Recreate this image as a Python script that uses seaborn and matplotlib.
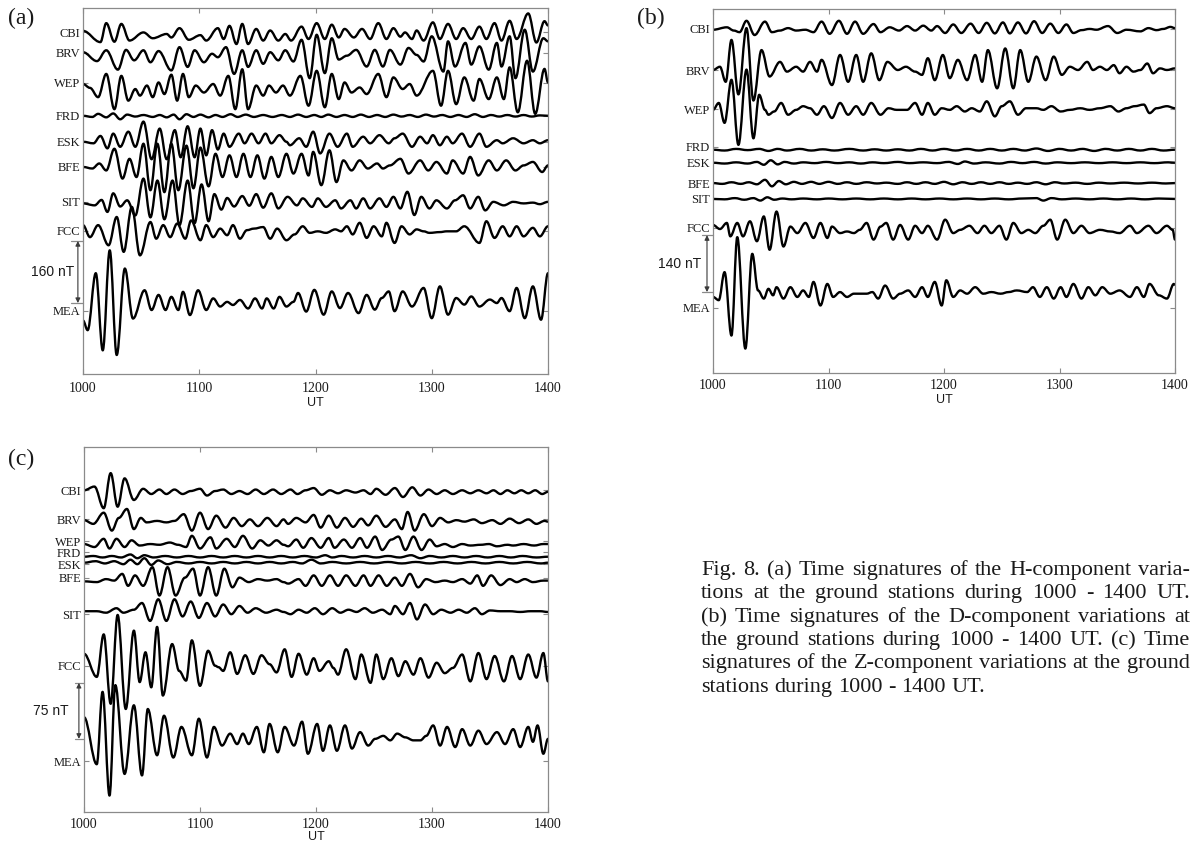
import matplotlib
matplotlib.use("Agg")
import matplotlib.pyplot as plt
import matplotlib.transforms as mtransforms
from matplotlib.path import Path
from matplotlib.patches import PathPatch
import seaborn as sns

# ---------------------------------------------------------------------------
# Magnetometer records 1000-1400 UT: successive turning points (UT minute, nT)
# of each station trace, relative to the station's own baseline.
# ---------------------------------------------------------------------------
STATIONS = ["CBI", "BRV", "WEP", "FRD", "ESK", "BFE", "SIT", "FCC", "MEA"]
UT_TICKS = [1000, 1100, 1200, 1300, 1400]
SCALE_BARS_NT = [160, 140, 75]
PANEL_TAGS = ["(a)", "(b)", "(c)"]

# ---- H component --------------------------------------------------------
H_CBI = [(1000, 8), (1015, -21), (1020, 28), (1027, -20), (1033, 26), (1040, -17), (1052, 4), (1060, -11),
         (1072, 0), (1076, -9), (1083, 15), (1091, -15), (1101, -3), (1106, -17), (1116, 15), (1121, -13),
         (1126, 21), (1132, -26), (1137, 26), (1142, -26), (1149, 13), (1155, -17), (1161, 9), (1168, -17),
         (1174, 0), (1179, -17), (1188, 19), (1194, -13), (1201, 28), (1208, -13), (1214, 24), (1220, -9),
         (1225, 13), (1233, -9), (1240, 13), (1247, -13), (1254, 28), (1261, -13), (1267, 15), (1273, -7),
         (1277, 4), (1283, -13), (1287, 9), (1293, -17), (1301, 30), (1307, -13), (1314, 26), (1321, -13),
         (1327, 15), (1334, -13), (1341, 19), (1347, -13), (1354, 28), (1360, -17), (1367, 34), (1373, -13),
         (1383, 53), (1390, -22), (1397, 33), (1400, 22)]
H_BRV = [(1000, 4), (1012, -19), (1020, 9), (1030, -41), (1037, 10), (1044, -17), (1052, 9), (1058, -22),
         (1065, 7), (1076, -43), (1083, 17), (1090, -34), (1096, 9), (1104, -22), (1111, 0), (1116, -9),
         (1123, 17), (1130, -52), (1137, 9), (1142, -34), (1149, 9), (1155, -26), (1161, 4), (1168, -17),
         (1174, 9), (1181, -20), (1188, 36), (1195, -63), (1201, 49), (1208, -50), (1214, 40), (1220, -15),
         (1227, -5), (1235, 10), (1244, -33), (1251, 10), (1258, -33), (1264, 10), (1273, -28), (1280, 15),
         (1287, -3), (1293, -20), (1300, 45), (1310, -46), (1314, 32), (1320, -33), (1329, 28), (1334, -28),
         (1341, 19), (1349, -41), (1356, 28), (1360, -33), (1367, 45), (1372, -63), (1380, 62), (1387, -46),
         (1396, 40), (1400, 32)]
H_WEP = [(1000, 0), (1006, -10), (1013, -34), (1020, 26), (1027, -65), (1033, 21), (1039, -43), (1045, -13),
         (1049, -30), (1055, -4), (1060, -34), (1065, 4), (1070, -26), (1076, 24), (1081, -43), (1086, 26),
         (1091, -34), (1097, -4), (1104, -22), (1112, 0), (1118, -30), (1125, 21), (1131, -65), (1137, 38),
         (1142, -65), (1149, -4), (1155, -30), (1160, -4), (1166, -22), (1172, -4), (1178, -30), (1187, 21),
         (1194, -56), (1201, 34), (1208, -60), (1214, 26), (1220, -39), (1225, 4), (1231, -22), (1238, -9),
         (1244, -26), (1254, 26), (1261, -34), (1267, 17), (1275, -13), (1281, 0), (1287, -30), (1301, 34),
         (1308, -56), (1314, 34), (1321, -52), (1328, 17), (1336, -43), (1341, 13), (1349, -39), (1356, 17),
         (1362, -39), (1367, 43), (1374, -73), (1382, 60), (1389, -77), (1397, 39), (1400, 4)]
H_FRD = [(1000, 0), (1008, -3), (1013, 5), (1020, -4), (1026, 6), (1032, -9), (1038, 3), (1045, -2), (1052, 2),
         (1060, -3), (1066, 2), (1072, -4), (1078, 3), (1083, -9), (1089, 4), (1095, -3), (1101, 3), (1108, -4),
         (1114, 2), (1120, -3), (1127, 4), (1133, -3), (1140, 3), (1147, -3), (1155, 2), (1163, -3), (1171, 2),
         (1178, -3), (1185, 3), (1192, -3), (1199, 2), (1205, -3), (1211, 3), (1218, -3), (1225, 2), (1232, -3),
         (1239, 3), (1246, -3), (1253, 2), (1260, -3), (1267, 3), (1274, -2), (1281, 2), (1288, -3), (1295, 3),
         (1302, -2), (1309, 2), (1316, -3), (1323, 2), (1330, -3), (1337, 4), (1344, -3), (1351, 2), (1358, -2),
         (1365, 2), (1372, -2), (1379, 2), (1386, -2), (1393, 1), (1400, 0)]
H_ESK = [(1000, 0), (1009, -4), (1015, 15), (1021, -17), (1026, 21), (1032, -13), (1039, 26), (1045, -13),
         (1052, 52), (1059, -45), (1066, 34), (1072, -45), (1079, 30), (1084, -40), (1090, 40), (1096, -40),
         (1101, 34), (1106, -35), (1111, 30), (1116, -20), (1121, 21), (1126, -13), (1134, 21), (1139, -4),
         (1145, 21), (1151, -4), (1157, 21), (1162, -4), (1169, 17), (1175, 0), (1178, -9), (1186, 9),
         (1192, -13), (1198, 26), (1204, -30), (1212, 21), (1219, -13), (1227, 21), (1232, -13), (1241, 13),
         (1247, -4), (1255, 17), (1263, -4), (1268, 9), (1275, 21), (1283, -13), (1290, 13), (1296, -4),
         (1301, 17), (1307, -9), (1313, 13), (1318, -4), (1326, 21), (1333, -13), (1341, 21), (1347, -13),
         (1356, 4), (1361, -4), (1370, 9), (1379, -4), (1387, 4), (1393, -4), (1400, 4)]
H_BFE = [(1000, 0), (1008, -4), (1014, 9), (1020, -9), (1027, 47), (1034, -30), (1040, 21), (1046, -26),
         (1052, 60), (1058, -60), (1064, 60), (1070, -65), (1076, 60), (1082, -60), (1089, 55), (1095, -55),
         (1101, 50), (1108, -50), (1114, 34), (1120, -26), (1126, 30), (1132, -26), (1138, 34), (1144, -26),
         (1150, 30), (1156, -30), (1162, 26), (1168, -26), (1175, 34), (1181, -17), (1188, 34), (1194, -22),
         (1198, 39), (1205, -47), (1212, 43), (1218, -39), (1224, 17), (1231, -9), (1238, 17), (1245, -4),
         (1253, 9), (1258, -4), (1264, 4), (1273, 21), (1280, -17), (1290, 17), (1297, -9), (1304, 13),
         (1313, -17), (1318, 17), (1327, -17), (1333, 26), (1340, -22), (1349, 17), (1356, -9), (1364, 17),
         (1372, -9), (1379, 4), (1387, 13), (1395, -13), (1400, 4)]
H_SIT = [(1000, -4), (1010, -9), (1016, 5), (1021, -26), (1026, 22), (1032, -12), (1038, 4), (1045, -35),
         (1052, 60), (1058, -40), (1064, 55), (1070, -45), (1077, 55), (1083, -60), (1090, 55), (1096, -55),
         (1102, 45), (1108, -50), (1113, 20), (1119, -20), (1124, 10), (1130, -12), (1137, 15), (1143, -10),
         (1149, 20), (1155, -15), (1162, 22), (1168, -17), (1176, 13), (1184, -9), (1189, 9), (1197, -13),
         (1202, 9), (1209, -13), (1217, 4), (1222, -17), (1230, 4), (1235, -17), (1241, 9), (1247, -17),
         (1255, 9), (1261, -13), (1267, 13), (1273, -17), (1279, 26), (1285, -34), (1291, 13), (1298, -17),
         (1304, 4), (1313, -17), (1320, 4), (1327, 17), (1333, -17), (1340, 13), (1346, -22), (1353, 0),
         (1362, -9), (1370, 0), (1379, -4), (1387, -2), (1393, -6), (1400, 0)]
H_FCC = [(1000, 15), (1006, -16), (1013, 15), (1022, -37), (1029, 36), (1035, -54), (1042, 62), (1049, -63),
         (1058, 23), (1063, -20), (1069, 15), (1075, -16), (1081, 19), (1088, -20), (1093, 27), (1101, -24),
         (1106, 15), (1112, -16), (1118, 6), (1124, -11), (1129, 15), (1135, -20), (1141, 2), (1147, 6),
         (1155, 10), (1161, -20), (1167, 6), (1175, -24), (1182, -9), (1189, 12), (1195, -5), (1202, -1),
         (1209, -5), (1217, 4), (1222, -1), (1227, 12), (1232, -9), (1238, 21), (1244, -18), (1250, 12),
         (1257, -14), (1261, 21), (1268, -31), (1274, 12), (1281, -9), (1287, 4), (1293, -1), (1298, -5),
         (1307, -3), (1313, -1), (1321, -1), (1328, 12), (1341, -31), (1347, 25), (1354, -18), (1361, 12),
         (1367, -14), (1373, 12), (1379, -14), (1387, 8), (1393, -14), (1400, 12)]
H_MEA = [(1000, -45), (1004, -70), (1011, 77), (1017, -122), (1023, 136), (1029, -134), (1036, 89), (1043, -40),
         (1053, 33), (1059, -18), (1065, 21), (1071, -18), (1076, 16), (1082, -18), (1086, 29), (1092, -31),
         (1099, 33), (1106, -18), (1112, 12), (1118, -9), (1124, 3), (1129, -5), (1135, 8), (1142, -14),
         (1148, 12), (1154, -14), (1158, 12), (1164, -14), (1169, 16), (1175, -9), (1181, 3), (1185, 26),
         (1192, -22), (1199, 34), (1207, -30), (1214, 30), (1221, -13), (1228, 26), (1237, -26), (1244, 21),
         (1251, -17), (1257, 13), (1263, 30), (1268, -21), (1275, 30), (1283, -9), (1293, 39), (1300, -39),
         (1307, 43), (1314, -30), (1321, 13), (1328, -4), (1334, 17), (1341, -9), (1350, 9), (1356, 0),
         (1360, 13), (1367, -21), (1373, 39), (1380, -39), (1387, 43), (1394, -43), (1400, 77)]

# ---- D component --------------------------------------------------------
D_CBI = [(1000, -2), (1012, 4), (1018, -4), (1023, -8), (1029, 20), (1036, -15), (1045, 18), (1051, -8),
         (1058, -4), (1065, 2), (1072, -4), (1080, -2), (1087, -8), (1094, 18), (1101, -12), (1109, 20),
         (1116, -12), (1123, 18), (1130, -12), (1139, 12), (1145, -8), (1153, 4), (1161, -4), (1168, 7),
         (1175, -4), (1182, 8), (1189, -4), (1194, 7), (1201, -10), (1208, 11), (1215, -10), (1223, 13),
         (1230, -10), (1237, 15), (1244, -11), (1251, 16), (1257, -11), (1264, 16), (1271, -11), (1278, 19),
         (1285, -10), (1292, 13), (1299, -10), (1306, 11), (1312, -10), (1319, -3), (1326, 0), (1332, -2),
         (1342, 7), (1350, -10), (1358, -2), (1370, -6), (1377, 2), (1384, -3), (1390, 0), (1396, 5), (1400, 2)]
D_BRV = [(1000, 0), (1006, 8), (1011, -29), (1016, 74), (1022, -60), (1029, 103), (1035, -75), (1042, 49),
         (1049, -16), (1058, 20), (1064, -4), (1072, 8), (1078, -4), (1084, 20), (1090, -4), (1094, 25),
         (1103, -37), (1110, 37), (1117, -29), (1124, 37), (1130, -29), (1137, 41), (1144, -25), (1151, 20),
         (1160, 0), (1167, 8), (1175, -4), (1181, -12), (1186, 29), (1192, -25), (1199, 37), (1205, -20),
         (1212, 25), (1220, -25), (1227, 37), (1233, -29), (1238, 49), (1246, -45), (1253, 53), (1260, -45),
         (1266, 49), (1273, -29), (1280, 33), (1288, -25), (1295, 33), (1302, -12), (1309, 8), (1316, 0),
         (1324, 20), (1329, 0), (1335, 8), (1341, 0), (1347, 12), (1352, -8), (1358, 8), (1364, -4),
         (1370, 0), (1376, 16), (1381, -8), (1387, 4), (1393, 0), (1400, 4)]
D_WEP = [(1000, -2), (1005, 15), (1010, -34), (1016, 72), (1022, -88), (1029, 97), (1035, -72), (1040, 35),
         (1045, -2), (1048, -14), (1053, -6), (1059, 15), (1065, -14), (1072, -2), (1078, 7), (1084, 2),
         (1090, -14), (1096, 7), (1103, -22), (1110, 15), (1117, -14), (1124, 7), (1130, -14), (1137, 15),
         (1145, -14), (1152, 2), (1159, -2), (1168, -2), (1175, 15), (1181, -14), (1186, 15), (1192, -14),
         (1198, 2), (1205, -2), (1211, 7), (1218, -6), (1224, 2), (1231, -6), (1237, 19), (1244, -18),
         (1250, 7), (1257, 19), (1264, -14), (1271, 2), (1280, 2), (1286, -2), (1293, 7), (1301, -6),
         (1309, -2), (1318, 2), (1326, -2), (1335, 2), (1344, 7), (1351, -6), (1358, 2), (1365, 7),
         (1373, 11), (1378, -10), (1384, 2), (1393, 7), (1400, 2)]
D_FRD = [(1000, 0), (1010, -2), (1020, 2), (1030, -1), (1040, 2), (1048, -3), (1056, 2), (1064, -2), (1075, 2),
         (1085, -2), (1095, 1), (1105, -2), (1118, 2), (1130, -2), (1140, 1), (1150, -2), (1160, 1), (1170, -2),
         (1180, 2), (1190, -2), (1200, 2), (1210, -2), (1220, 2), (1230, -2), (1240, 2), (1250, -2), (1260, 2),
         (1270, -2), (1280, 3), (1290, -3), (1300, 2), (1310, -2), (1320, 2), (1330, -3), (1340, 2), (1350, -2),
         (1360, 2), (1370, -2), (1380, 2), (1390, -2), (1400, 0)]
D_ESK = [(1000, 0), (1010, -2), (1020, 1), (1030, -2), (1038, 2), (1044, -5), (1050, 6), (1056, -4), (1062, 2),
         (1070, -2), (1078, 1), (1088, -1), (1098, 2), (1108, -1), (1118, 1), (1128, -2), (1138, 1), (1148, -1),
         (1160, 2), (1170, -1), (1182, 1), (1194, -1), (1204, 2), (1212, -3), (1218, 3), (1226, -2), (1236, 1),
         (1248, -2), (1258, 2), (1268, -1), (1278, 2), (1288, -2), (1298, 1), (1310, -1), (1322, 1), (1334, -1),
         (1346, 1), (1358, -1), (1370, 1), (1382, -1), (1394, 1), (1400, 0)]
D_BFE = [(1000, 0), (1008, -2), (1016, 2), (1024, -2), (1031, 2), (1038, -3), (1045, 8), (1051, -8), (1057, 5),
         (1063, -3), (1070, 3), (1077, -2), (1085, 3), (1092, -2), (1100, 3), (1108, -2), (1116, 2), (1124, -2),
         (1133, 2), (1142, -1), (1150, 1), (1160, -2), (1168, 2), (1176, -2), (1184, 2), (1192, -2), (1200, 3),
         (1208, -3), (1216, 2), (1224, -2), (1232, 2), (1240, -2), (1248, 2), (1256, -2), (1264, 1), (1272, -2),
         (1280, 2), (1288, -3), (1296, 2), (1304, -1), (1314, 1), (1324, -2), (1334, 1), (1344, -1), (1356, 1),
         (1368, -1), (1380, 1), (1392, -1), (1400, 0)]
D_SIT = [(1000, 0), (1010, -1), (1019, 2), (1027, -2), (1035, 2), (1041, -4), (1047, 4), (1053, -2), (1060, 1),
         (1068, -1), (1078, 1), (1090, -1), (1100, 1), (1112, -1), (1124, 1), (1136, -1), (1148, 1), (1160, -1),
         (1172, 1), (1184, -1), (1196, 1), (1208, -1), (1220, 1), (1232, -1), (1244, 1), (1256, -1), (1268, 1),
         (1280, 2), (1286, -4), (1293, 2), (1302, -1), (1314, 1), (1326, -1), (1338, 1), (1350, -1), (1362, 1),
         (1374, -1), (1386, 1), (1400, 0)]
D_FCC = [(1000, 2), (1006, -8), (1012, 7), (1015, -26), (1021, 7), (1026, -26), (1032, 11), (1038, -38),
         (1044, 23), (1049, -59), (1055, 35), (1061, -51), (1067, -2), (1073, -18), (1080, 7), (1087, -30),
         (1093, 7), (1099, -30), (1103, -2), (1110, -18), (1116, -14), (1122, -18), (1127, -10), (1133, 7),
         (1139, -34), (1145, -2), (1150, 7), (1156, -34), (1162, 2), (1169, -34), (1175, 0), (1181, -18),
         (1186, 0), (1194, -34), (1201, 15), (1208, -18), (1214, -10), (1222, 0), (1229, -18), (1235, 0),
         (1241, -18), (1248, 0), (1254, -34), (1260, 7), (1267, -18), (1273, -10), (1279, -18), (1286, 0),
         (1292, 15), (1298, -34), (1305, 15), (1312, -18), (1319, 0), (1326, -18), (1335, -10), (1344, -14),
         (1352, -18), (1361, 0), (1367, -18), (1377, 0), (1384, -18), (1393, 0), (1398, -10), (1400, -34)]
D_MEA = [(1000, -12), (1005, -20), (1010, 49), (1016, -107), (1021, 135), (1028, -139), (1034, 94), (1039, 4),
         (1044, -16), (1048, 8), (1052, -8), (1055, 12), (1061, -16), (1067, 12), (1073, -12), (1078, 4),
         (1083, -12), (1087, 25), (1093, -33), (1099, 20), (1104, -12), (1110, 0), (1116, -12), (1122, -4),
         (1133, -4), (1138, 0), (1143, -16), (1149, 16), (1156, -16), (1162, -4), (1169, 4), (1175, -12),
         (1181, 12), (1186, -12), (1192, 25), (1198, -33), (1202, 29), (1208, -12), (1214, 4), (1220, -4),
         (1227, 12), (1234, -4), (1241, 0), (1249, -4), (1256, 0), (1263, 4), (1272, 0), (1277, 12),
         (1283, -12), (1289, 12), (1295, -16), (1301, 12), (1306, -12), (1312, 20), (1319, -16), (1325, 12),
         (1331, -8), (1337, 12), (1344, -4), (1352, 4), (1361, -12), (1367, 12), (1373, -12), (1378, 20),
         (1386, -8), (1393, -16), (1399, 20), (1400, 18)]

# ---- Z component --------------------------------------------------------
Z_CBI = [(1000, 2), (1009, 7), (1017, -22), (1023, 25), (1029, -20), (1035, 18), (1043, -11), (1051, 4),
         (1058, -3), (1065, 3), (1071, -3), (1078, 3), (1085, -3), (1092, 1), (1100, 4), (1106, -5), (1113, 1),
         (1120, 3), (1127, -3), (1134, 1), (1141, -3), (1148, 3), (1155, -3), (1163, 3), (1170, -3), (1178, 3),
         (1184, -3), (1191, 2), (1198, 5), (1205, -4), (1212, 2), (1219, -2), (1226, 2), (1234, -1), (1241, 2),
         (1247, -3), (1252, 4), (1260, -4), (1268, 5), (1275, -7), (1283, 6), (1290, -5), (1297, 3), (1304, -3),
         (1311, 2), (1318, -3), (1326, 2), (1333, -2), (1340, 2), (1347, -2), (1353, 2), (1359, -3), (1365, 2),
         (1371, -2), (1377, 2), (1383, -2), (1389, 2), (1395, -3), (1400, 0)]
Z_BRV = [(1000, 1), (1008, -4), (1017, 11), (1024, -13), (1030, 4), (1037, 16), (1043, -11), (1049, 4),
         (1054, -2), (1063, 0), (1071, -2), (1078, 0), (1086, 9), (1093, -13), (1100, 11), (1107, -11),
         (1114, 7), (1122, -9), (1129, 4), (1136, -7), (1143, 2), (1150, -7), (1158, 4), (1166, -7), (1172, 2),
         (1176, -4), (1183, 4), (1191, -2), (1198, 8), (1204, -9), (1211, 7), (1218, -9), (1225, 4), (1232, -8),
         (1239, 3), (1245, -6), (1252, 7), (1260, -8), (1268, 2), (1274, -11), (1279, 12), (1285, -13),
         (1293, 9), (1300, -7), (1307, 4), (1314, -2), (1321, 1), (1328, -1), (1336, 2), (1343, -3), (1352, 1),
         (1359, -4), (1367, 3), (1375, -3), (1383, 2), (1390, -4), (1397, 0), (1400, -1)]
Z_WEP = [(1000, 1), (1009, -3), (1017, 8), (1022, -5), (1028, 8), (1035, -3), (1041, 6), (1048, -1), (1057, 1),
         (1065, 0), (1074, 3), (1081, 0), (1088, -3), (1093, 12), (1100, -5), (1109, 10), (1114, -5), (1123, 8),
         (1130, -3), (1137, 12), (1145, -5), (1152, 6), (1159, -1), (1166, 6), (1172, 0), (1176, -2), (1183, 7),
         (1189, -4), (1196, 9), (1204, -4), (1211, 9), (1216, -4), (1224, 7), (1231, -4), (1238, 9), (1244, -4),
         (1251, 11), (1257, -7), (1265, 7), (1271, 11), (1277, -7), (1284, 11), (1291, -7), (1298, 7),
         (1304, -2), (1311, 1), (1318, -3), (1326, 1), (1333, -1), (1342, 0), (1349, 1), (1356, -2), (1365, 0),
         (1370, -1), (1379, 1), (1388, -1), (1396, 1), (1400, 1)]
Z_FRD = [(1000, 0), (1008, 1), (1016, -1), (1024, 1), (1032, -1), (1040, 3), (1046, -2), (1052, 2), (1060, -1),
         (1070, 1), (1080, -1), (1090, 1), (1100, -1), (1110, 1), (1120, -1), (1130, 1), (1140, -1), (1150, 1),
         (1160, -1), (1170, 1), (1180, -1), (1190, 1), (1200, -1), (1208, 2), (1214, -1), (1222, 1), (1232, -1),
         (1242, 1), (1252, -1), (1262, 1), (1272, -1), (1282, 2), (1290, -2), (1298, 1), (1308, -1), (1318, 1),
         (1328, -1), (1338, 1), (1348, -1), (1358, 1), (1368, -1), (1378, 1), (1390, -1), (1400, 0)]
Z_ESK = [(1000, 0), (1010, 2), (1018, -1), (1026, 2), (1034, -2), (1040, 4), (1046, -2), (1052, 6), (1058, -3),
         (1064, 3), (1072, -2), (1080, 1), (1090, -1), (1100, 1), (1110, -1), (1120, 1), (1130, -1), (1140, 1),
         (1150, -1), (1160, 1), (1170, -1), (1180, 1), (1188, -1), (1196, 4), (1204, -1), (1214, 1), (1226, -1),
         (1238, 1), (1250, -1), (1262, 1), (1274, -1), (1286, 1), (1298, -1), (1310, 1), (1322, -1), (1334, 1),
         (1346, -1), (1358, 1), (1370, -1), (1382, 1), (1394, -1), (1400, 0)]
Z_BFE = [(1000, -1), (1011, -2), (1019, 2), (1026, 0), (1033, 9), (1038, -7), (1044, 7), (1051, -7), (1059, 18),
         (1065, -20), (1072, 18), (1079, -20), (1087, 4), (1094, 16), (1100, -20), (1107, 18), (1114, -20),
         (1121, 16), (1128, -9), (1134, 4), (1142, -2), (1150, 2), (1158, 0), (1166, 2), (1172, -2), (1176, -4),
         (1185, 2), (1191, -7), (1198, 7), (1205, -7), (1212, 7), (1219, -7), (1226, 7), (1234, -7), (1241, 7),
         (1247, -7), (1254, 7), (1261, -7), (1268, 4), (1274, -7), (1281, 9), (1288, -9), (1295, 2), (1303, -2),
         (1311, 0), (1318, -2), (1326, 2), (1333, -4), (1339, 7), (1344, -7), (1351, 7), (1359, -6), (1367, 2),
         (1373, -2), (1380, 2), (1387, -2), (1396, 0), (1400, 0)]
Z_SIT = [(1000, 0), (1011, 0), (1019, -2), (1028, 4), (1034, -2), (1043, 2), (1050, 11), (1057, -13), (1064, 16),
         (1071, -13), (1078, 16), (1085, -7), (1092, 13), (1099, -9), (1106, 11), (1113, -7), (1120, 9),
         (1127, -4), (1134, 7), (1141, -2), (1148, 4), (1157, -2), (1166, 2), (1172, -1), (1178, -4), (1185, 2),
         (1192, -2), (1199, 4), (1206, -4), (1214, 4), (1221, -2), (1228, 2), (1235, -1), (1242, 4), (1249, -2),
         (1257, 2), (1264, -4), (1268, 7), (1275, -4), (1281, 11), (1287, -11), (1294, 9), (1301, -4), (1308, 2),
         (1316, -2), (1323, 2), (1330, -2), (1337, 4), (1343, -4), (1350, 1), (1359, 0), (1367, 0), (1376, -1),
         (1385, 0), (1393, 0), (1400, -1)]
Z_FCC = [(1000, 14), (1011, -17), (1017, 40), (1023, -53), (1029, 66), (1036, -60), (1043, 45), (1048, -24),
         (1053, 16), (1058, -31), (1063, 50), (1068, -42), (1076, 27), (1082, -9), (1088, -22), (1093, 32),
         (1100, -29), (1107, 18), (1113, -2), (1116, -4), (1120, -9), (1126, 16), (1132, -13), (1139, 12),
         (1146, -13), (1153, 12), (1160, 0), (1166, -11), (1173, 20), (1179, -17), (1185, 14), (1192, -14),
         (1198, 8), (1203, -9), (1211, 4), (1215, -5), (1219, -14), (1226, 20), (1234, -20), (1239, 13),
         (1247, -25), (1252, 13), (1258, -20), (1265, 8), (1271, -16), (1277, 4), (1284, -14), (1290, 8),
         (1297, -18), (1304, 2), (1311, -12), (1318, -5), (1326, 13), (1333, -23), (1340, 15), (1347, -20),
         (1354, 11), (1362, -23), (1369, 11), (1376, -20), (1383, 13), (1390, -18), (1396, 15), (1400, -23)]
Z_MEA = [(1000, 29), (1011, -34), (1016, 63), (1022, -76), (1027, 72), (1035, -47), (1043, 45), (1050, -49),
         (1055, 40), (1063, -22), (1069, 31), (1077, -25), (1084, 16), (1093, -22), (1099, 27), (1106, -25),
         (1112, 16), (1119, -9), (1126, 7), (1132, -7), (1137, 7), (1142, -7), (1149, 16), (1155, -18),
         (1160, 20), (1167, -18), (1173, 16), (1181, -9), (1188, 23), (1193, -20), (1201, 20), (1206, -16),
         (1212, 18), (1218, -16), (1225, 18), (1231, -13), (1238, 9), (1245, -9), (1251, 0), (1258, 4),
         (1264, -2), (1270, 7), (1277, 2), (1284, -2), (1290, -2), (1295, 4), (1301, 18), (1307, -9),
         (1313, 16), (1320, -11), (1326, 13), (1333, -9), (1340, 11), (1347, -7), (1356, 9), (1363, -7),
         (1370, 13), (1376, -11), (1383, 16), (1387, -4), (1391, 18), (1396, -20), (1400, 0)]

H_TRACES = [H_CBI, H_BRV, H_WEP, H_FRD, H_ESK, H_BFE, H_SIT, H_FCC, H_MEA]
D_TRACES = [D_CBI, D_BRV, D_WEP, D_FRD, D_ESK, D_BFE, D_SIT, D_FCC, D_MEA]
Z_TRACES = [Z_CBI, Z_BRV, Z_WEP, Z_FRD, Z_ESK, Z_BFE, Z_SIT, Z_FCC, Z_MEA]

CAPTION_LINES = [
    "Fig. 8. (a) Time signatures of the H-component varia-",
    "tions at the ground stations during 1000 - 1400 UT.",
    "(b) Time signatures of the D-component variations at",
    "the ground stations during 1000 - 1400 UT. (c) Time",
    "signatures of the Z-component variations at the ground",
    "stations during 1000 - 1400 UT.",
]

# ---------------------------------------------------------------------------
# Layout (figure pixels 1197 x 843, stacked-trace offsets in nT)
# ---------------------------------------------------------------------------
W, H = 1197, 843
LAYOUT = [
    dict(traces=H_TRACES, box=(83, 8, 548, 374), ytop=944,
         base=[877, 826, 748, 666, 599, 534, 444, 369, 183],
         ticks=[882, 828, 751, 666, 599, 534, 444, 369, 163],
         bar_x=-0.011, bar_end=-0.026, bar_text=-0.018, tag_xy=(21, 18),
         xpad=5.5, labelpad=2.0),
    dict(traces=D_TRACES, box=(713, 9, 1175, 373), ytop=895,
         base=[846, 745, 649, 549, 517, 467, 428, 362, 199],
         ticks=[846, 745, 649, 556, 517, 467, 428, 357, 160],
         bar_x=-0.013, bar_end=-0.024, bar_text=-0.026, tag_xy=(651, 18),
         xpad=4.5, labelpad=1.5),
    dict(traces=Z_TRACES, box=(84, 447, 548, 812), ytop=489,
         base=[429, 390, 358, 342, 334, 310, 269, 198, 98],
         ticks=[431, 392, 363, 348, 332, 314, 265, 196, 68],
         bar_x=-0.011, bar_end=-0.02, bar_text=-0.034, tag_xy=(21, 459),
         xpad=4.0, labelpad=0.5),
]

sns.set_theme(style="ticks")
plt.rcParams["font.family"] = ["Liberation Serif", "DejaVu Serif"]
plt.rcParams["axes.linewidth"] = 0.9

SPINE = "#8a8a8a"
INK = "#1a1a1a"
SANS = ["Liberation Sans", "DejaVu Sans"]


def trace_path(points, offset):
    """Smooth cubic path through successive turning points (flat tangents)."""
    verts = [(points[0][0], offset + points[0][1])]
    codes = [Path.MOVETO]
    for (t0, v0), (t1, v1) in zip(points[:-1], points[1:]):
        d = 0.363 * (t1 - t0)
        verts += [(t0 + d, offset + v0), (t1 - d, offset + v1), (t1, offset + v1)]
        codes += [Path.CURVE4] * 3
    return Path(verts, codes)


fig = plt.figure(figsize=(W / 100, H / 100), dpi=100)

for spec, bar_nt, tag in zip(LAYOUT, SCALE_BARS_NT, PANEL_TAGS):
    x0, y0, x1, y1 = spec["box"]
    ax = fig.add_axes([x0 / W, 1 - y1 / H, (x1 - x0) / W, (y1 - y0) / H])
    ax.set_xlim(1000, 1400)
    ax.set_ylim(0, spec["ytop"])

    for pts, off in zip(spec["traces"], spec["base"]):
        ax.add_patch(PathPatch(trace_path(pts, off), facecolor="none", edgecolor="black",
                               lw=1.7, capstyle="round", joinstyle="round"))

    for s in ax.spines.values():
        s.set_color(SPINE)
        s.set_linewidth(0.9)
    ax.set_xticks(UT_TICKS)
    ax.set_xticklabels([str(u) for u in UT_TICKS], fontsize=10)
    ax.set_yticks(spec["ticks"])
    ax.set_yticklabels(STATIONS, fontsize=9)
    ax.tick_params(axis="both", direction="in", length=3.5, width=0.8, color=SPINE,
                   labelcolor=INK)
    ax.tick_params(axis="x", top=True, pad=spec["xpad"])
    ax.tick_params(axis="y", right=True, pad=2)
    ax.set_xlabel("UT", family=SANS, fontsize=9, labelpad=spec["labelpad"], color=INK)
    ax.grid(False)

    # nT scale bar standing on the MEA baseline, drawn left of the frame
    trans = mtransforms.blended_transform_factory(ax.transAxes, ax.transData)
    lo, hi = spec["base"][-1], spec["base"][-1] + bar_nt
    ax.annotate("", xy=(spec["bar_x"], hi), xytext=(spec["bar_x"], lo),
                xycoords=trans, textcoords=trans, annotation_clip=False,
                arrowprops=dict(arrowstyle="<|-|>", color="#3a3a3a", lw=0.8,
                                mutation_scale=7, shrinkA=0, shrinkB=0))
    for yy in (lo, hi):
        ax.plot([spec["bar_end"], 0], [yy, yy], transform=trans, clip_on=False,
                color=SPINE, lw=0.9)
    ax.text(spec["bar_text"], (lo + hi) / 2, f"{bar_nt} nT", transform=trans,
            ha="right", va="center", family=SANS, fontsize=10, color=INK)

    fig.text(spec["tag_xy"][0] / W, 1 - spec["tag_xy"][1] / H, tag,
             ha="center", va="center", fontsize=17, color=INK)

# Justified caption block
CAP_LEFT, CAP_RIGHT = 701, 1190
CAP_BASELINES = [575, 598, 622, 645, 668, 692]
CAP_FS = 16
fig.canvas.draw()
renderer = fig.canvas.get_renderer()


def text_width(s):
    t = fig.text(0, 0, s, fontsize=CAP_FS)
    w = t.get_window_extent(renderer).width
    t.remove()
    return w


space_w = text_width("a a") - text_width("aa")
for i, (line, yb) in enumerate(zip(CAPTION_LINES, CAP_BASELINES)):
    words = line.split()
    widths = [text_width(wd) for wd in words]
    last = i == len(CAPTION_LINES) - 1
    gap = space_w if last else (CAP_RIGHT - CAP_LEFT - sum(widths)) / (len(words) - 1)
    x = CAP_LEFT
    for wd, ww in zip(words, widths):
        fig.text(x / W, 1 - yb / H, wd, fontsize=CAP_FS, ha="left", va="baseline", color=INK)
        x += ww + gap

fig.savefig("out.png", dpi=100)
